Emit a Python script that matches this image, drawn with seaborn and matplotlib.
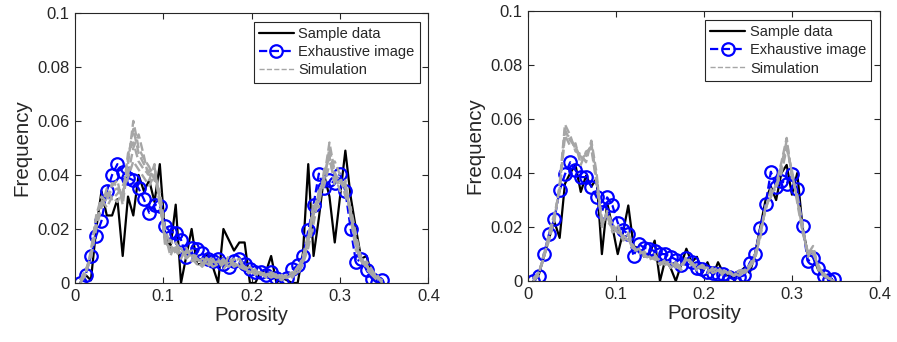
import matplotlib
matplotlib.use("Agg")
import matplotlib.pyplot as plt
import seaborn as sns
import pandas as pd
from matplotlib.ticker import FormatStrFormatter, FixedLocator

# porosity bins
porosity = [0.006, 0.012, 0.018, 0.024, 0.030, 0.036, 0.042, 0.048, 0.054, 0.060,
            0.066, 0.072, 0.078, 0.084, 0.090, 0.096, 0.102, 0.108, 0.114, 0.120,
            0.126, 0.132, 0.138, 0.144, 0.150, 0.156, 0.162, 0.168, 0.174, 0.180,
            0.186, 0.192, 0.198, 0.204, 0.210, 0.216, 0.222, 0.228, 0.234, 0.240,
            0.246, 0.252, 0.258, 0.264, 0.270, 0.276, 0.282, 0.288, 0.294, 0.300,
            0.306, 0.312, 0.318, 0.324, 0.330, 0.336, 0.342, 0.348]

# ---------------- left panel ----------------
left_sample = [0.000, 0.003, 0.001, 0.020, 0.034, 0.025, 0.025, 0.031, 0.010, 0.032,
               0.025, 0.040, 0.034, 0.038, 0.030, 0.044, 0.018, 0.013, 0.029, 0.000,
               0.010, 0.020, 0.007, 0.007, 0.011, 0.006, 0.000, 0.020, 0.016, 0.012,
               0.015, 0.015, 0.000, 0.000, 0.004, 0.004, 0.010, 0.000, 0.002, 0.001,
               0.000, 0.000, 0.011, 0.044, 0.010, 0.024, 0.040, 0.032, 0.015, 0.032,
               0.049, 0.032, 0.020, 0.009, 0.010, 0.003, 0.000, 0.000]
left_exhaustive = [0.000, 0.003, 0.010, 0.0175, 0.023, 0.034, 0.040, 0.044, 0.041, 0.039,
                   0.038, 0.035, 0.031, 0.026, 0.029, 0.0285, 0.021, 0.019, 0.0185, 0.016,
                   0.0096, 0.013, 0.0125, 0.011, 0.009, 0.008, 0.009, 0.007, 0.006, 0.008,
                   0.009, 0.007, 0.005, 0.004, 0.004, 0.003, 0.004, 0.002, 0.000, 0.002,
                   0.005, 0.0065, 0.010, 0.0195, 0.029, 0.0405, 0.035, 0.038, 0.037, 0.0405,
                   0.034, 0.020, 0.0078, 0.009, 0.0047, 0.0016, 0.000, 0.001]
left_sim1 = [0.001, 0.004, 0.010, 0.022, 0.030, 0.033, 0.034, 0.035, 0.032, 0.048,
             0.052, 0.045, 0.042, 0.040, 0.041, 0.030, 0.016, 0.012, 0.014, 0.010,
             0.012, 0.010, 0.008, 0.006, 0.009, 0.007, 0.008, 0.006, 0.010, 0.007,
             0.008, 0.006, 0.004, 0.005, 0.003, 0.004, 0.003, 0.002, 0.003, 0.002,
             0.003, 0.004, 0.008, 0.015, 0.028, 0.030, 0.040, 0.047, 0.036, 0.038,
             0.035, 0.026, 0.015, 0.008, 0.006, 0.004, 0.002, 0.001]
left_sim2 = [0.000, 0.003, 0.012, 0.025, 0.032, 0.030, 0.036, 0.038, 0.029, 0.044,
             0.060, 0.050, 0.046, 0.043, 0.038, 0.034, 0.020, 0.014, 0.011, 0.013,
             0.009, 0.011, 0.009, 0.008, 0.007, 0.009, 0.006, 0.008, 0.007, 0.009,
             0.006, 0.005, 0.006, 0.004, 0.004, 0.003, 0.002, 0.003, 0.002, 0.003,
             0.002, 0.005, 0.010, 0.018, 0.025, 0.034, 0.038, 0.050, 0.040, 0.034,
             0.038, 0.024, 0.012, 0.010, 0.005, 0.003, 0.003, 0.000]
left_sim3 = [0.001, 0.005, 0.009, 0.020, 0.028, 0.035, 0.031, 0.033, 0.036, 0.040,
             0.050, 0.055, 0.047, 0.038, 0.044, 0.028, 0.018, 0.010, 0.015, 0.012,
             0.010, 0.008, 0.010, 0.007, 0.006, 0.008, 0.009, 0.005, 0.008, 0.006,
             0.007, 0.005, 0.005, 0.003, 0.004, 0.002, 0.004, 0.002, 0.001, 0.003,
             0.004, 0.003, 0.007, 0.013, 0.022, 0.032, 0.036, 0.044, 0.045, 0.040,
             0.032, 0.028, 0.018, 0.009, 0.007, 0.003, 0.001, 0.001]
left_sim4 = [0.000, 0.004, 0.011, 0.024, 0.031, 0.028, 0.032, 0.030, 0.034, 0.039,
             0.045, 0.042, 0.039, 0.036, 0.040, 0.032, 0.014, 0.016, 0.012, 0.009,
             0.013, 0.009, 0.007, 0.009, 0.008, 0.006, 0.007, 0.009, 0.006, 0.008,
             0.009, 0.006, 0.003, 0.005, 0.003, 0.003, 0.004, 0.003, 0.002, 0.002,
             0.003, 0.006, 0.009, 0.016, 0.030, 0.028, 0.042, 0.046, 0.038, 0.036,
             0.037, 0.027, 0.014, 0.007, 0.008, 0.005, 0.002, 0.000]
left_sim5 = [0.001, 0.003, 0.010, 0.023, 0.029, 0.031, 0.037, 0.036, 0.031, 0.046,
             0.057, 0.048, 0.044, 0.041, 0.043, 0.031, 0.015, 0.013, 0.013, 0.011,
             0.011, 0.012, 0.009, 0.007, 0.010, 0.008, 0.007, 0.007, 0.009, 0.007,
             0.007, 0.006, 0.004, 0.004, 0.003, 0.003, 0.003, 0.002, 0.002, 0.002,
             0.003, 0.005, 0.008, 0.017, 0.026, 0.033, 0.039, 0.052, 0.041, 0.037,
             0.036, 0.025, 0.016, 0.009, 0.006, 0.004, 0.002, 0.001]

# ---------------- right panel ----------------
right_sample = [0.000, 0.002, 0.009, 0.016, 0.022, 0.016, 0.036, 0.040, 0.043, 0.033,
                0.039, 0.035, 0.038, 0.010, 0.029, 0.020, 0.010, 0.018, 0.028, 0.013,
                0.012, 0.009, 0.010, 0.015, 0.000, 0.008, 0.005, 0.000, 0.006, 0.012,
                0.007, 0.009, 0.003, 0.007, 0.002, 0.007, 0.003, 0.002, 0.001, 0.003,
                0.005, 0.003, 0.010, 0.020, 0.030, 0.035, 0.030, 0.040, 0.043, 0.032,
                0.040, 0.020, 0.010, 0.009, 0.004, 0.002, 0.001, 0.000]
right_exhaustive = [0.000, 0.002, 0.010, 0.0175, 0.023, 0.0336, 0.0395, 0.044, 0.041, 0.0385,
                    0.0385, 0.035, 0.031, 0.0257, 0.031, 0.028, 0.0216, 0.0188, 0.0175, 0.0093,
                    0.0138, 0.0123, 0.012, 0.011, 0.010, 0.010, 0.009, 0.008, 0.006, 0.0086,
                    0.007, 0.005, 0.0045, 0.0035, 0.003, 0.0027, 0.0025, 0.0015, 0.0006, 0.0015,
                    0.0022, 0.0068, 0.0099, 0.0198, 0.0284, 0.0405, 0.035, 0.037, 0.036, 0.0398,
                    0.034, 0.0204, 0.0074, 0.0086, 0.005, 0.0019, 0.0006, 0.0009]
right_sim1 = [0.001, 0.003, 0.009, 0.016, 0.024, 0.034, 0.056, 0.052, 0.050, 0.045,
              0.047, 0.050, 0.038, 0.022, 0.024, 0.019, 0.020, 0.016, 0.017, 0.012,
              0.011, 0.010, 0.008, 0.009, 0.006, 0.008, 0.005, 0.006, 0.004, 0.009,
              0.007, 0.005, 0.006, 0.004, 0.004, 0.005, 0.003, 0.004, 0.002, 0.003,
              0.004, 0.006, 0.008, 0.018, 0.027, 0.033, 0.034, 0.042, 0.050, 0.040,
              0.030, 0.019, 0.010, 0.011, 0.005, 0.002, 0.001, 0.000]
right_sim2 = [0.000, 0.002, 0.010, 0.017, 0.022, 0.036, 0.058, 0.054, 0.048, 0.047,
              0.044, 0.052, 0.040, 0.020, 0.026, 0.021, 0.018, 0.017, 0.015, 0.013,
              0.010, 0.011, 0.009, 0.008, 0.007, 0.006, 0.007, 0.005, 0.006, 0.008,
              0.006, 0.006, 0.005, 0.005, 0.003, 0.004, 0.004, 0.003, 0.003, 0.002,
              0.003, 0.005, 0.009, 0.016, 0.028, 0.031, 0.036, 0.044, 0.053, 0.038,
              0.032, 0.021, 0.009, 0.012, 0.004, 0.003, 0.001, 0.000]
right_sim3 = [0.001, 0.003, 0.008, 0.018, 0.025, 0.033, 0.054, 0.050, 0.051, 0.043,
              0.048, 0.049, 0.036, 0.023, 0.022, 0.020, 0.021, 0.015, 0.016, 0.011,
              0.012, 0.009, 0.009, 0.010, 0.007, 0.007, 0.006, 0.006, 0.005, 0.008,
              0.007, 0.004, 0.006, 0.003, 0.005, 0.004, 0.002, 0.003, 0.002, 0.004,
              0.004, 0.006, 0.010, 0.019, 0.026, 0.034, 0.035, 0.040, 0.049, 0.041,
              0.029, 0.018, 0.011, 0.010, 0.006, 0.002, 0.001, 0.001]
right_sim4 = [0.000, 0.003, 0.009, 0.015, 0.023, 0.035, 0.055, 0.053, 0.049, 0.046,
              0.046, 0.051, 0.037, 0.021, 0.025, 0.018, 0.019, 0.016, 0.018, 0.012,
              0.011, 0.010, 0.008, 0.009, 0.006, 0.008, 0.005, 0.007, 0.005, 0.009,
              0.006, 0.005, 0.005, 0.004, 0.004, 0.005, 0.003, 0.004, 0.002, 0.003,
              0.003, 0.005, 0.008, 0.017, 0.027, 0.032, 0.035, 0.043, 0.052, 0.039,
              0.031, 0.020, 0.010, 0.013, 0.005, 0.002, 0.001, 0.000]

x_ticks = [0, 0.1, 0.2, 0.3, 0.4]
y_ticks = [0, 0.02, 0.04, 0.06, 0.08, 0.1]

sns.set_style("ticks")
plt.rcParams["font.family"] = ["Liberation Sans", "DejaVu Sans"]
axis_col = "#262626"

fig = plt.figure(figsize=(8.97, 3.42), dpi=100)
ax_l = fig.add_axes([0.0836, 0.1725, 0.394, 0.79])
ax_r = fig.add_axes([0.5886, 0.178, 0.3924, 0.79])

panels = [
    (ax_l, left_sample, left_exhaustive, [left_sim1, left_sim2, left_sim3, left_sim4, left_sim5]),
    (ax_r, right_sample, right_exhaustive, [right_sim1, right_sim2, right_sim3, right_sim4]),
]

for ax, sample, exhaustive, sims in panels:
    sns.lineplot(x=porosity, y=sample, ax=ax, color="black", lw=1.6,
                 label="Sample data", estimator=None, sort=False)
    sns.lineplot(x=porosity, y=exhaustive, ax=ax, color="#0000ff", lw=1.6,
                 linestyle="--", marker="o", markersize=9, markerfacecolor="none",
                 markeredgecolor="#0000ff", markeredgewidth=1.6,
                 label="Exhaustive image", estimator=None, sort=False)
    sim_df = pd.DataFrame({
        "porosity": porosity * len(sims),
        "freq": [v for s in sims for v in s],
        "run": [k for k, s in enumerate(sims) for _ in s],
    })
    sns.lineplot(data=sim_df, x="porosity", y="freq", units="run", estimator=None,
                 ax=ax, color="#a6a6a6", lw=1.7, linestyle="--", sort=False,
                 label="Simulation")

    ax.set_xlim(0, 0.4)
    ax.set_ylim(0, 0.1)
    ax.xaxis.set_major_locator(FixedLocator(x_ticks))
    ax.yaxis.set_major_locator(FixedLocator(y_ticks))
    ax.xaxis.set_major_formatter(FormatStrFormatter("%g"))
    ax.yaxis.set_major_formatter(FormatStrFormatter("%g"))
    ax.tick_params(direction="in", top=True, right=True, length=4, width=0.8,
                   colors=axis_col, labelsize=12, labelcolor=axis_col, pad=4)
    for sp in ax.spines.values():
        sp.set_visible(True)
        sp.set_color(axis_col)
        sp.set_linewidth(0.8)
    ax.set_xlabel("Porosity", fontsize=14.8, color=axis_col, labelpad=2)
    ax.set_ylabel("Frequency", fontsize=14.8, color=axis_col, labelpad=4)

    handles, labels = ax.get_legend_handles_labels()
    leg = ax.legend(handles[:3], labels[:3], loc="upper right", fontsize=10.5,
                    frameon=True, fancybox=False, edgecolor=axis_col, framealpha=1,
                    handlelength=2.4, borderaxespad=0.6, borderpad=0.35,
                    labelspacing=0.3, handletextpad=0.3)
    leg.get_frame().set_linewidth(0.8)
    leg.legend_handles[2].set_linewidth(1.0)

fig.savefig("out.png", dpi=100)
